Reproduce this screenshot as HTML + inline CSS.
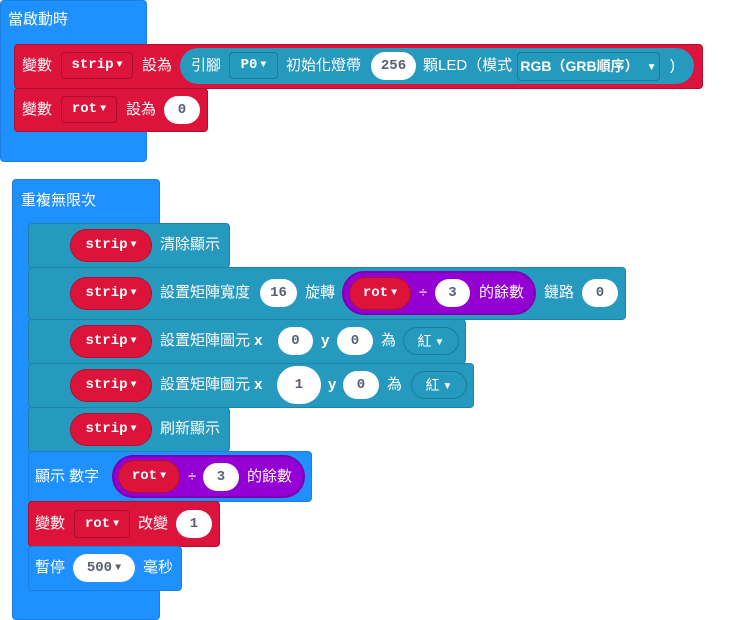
<!DOCTYPE html>
<html><head><meta charset="utf-8"><style>
body{margin:0;width:750px;height:620px;background:#fff;position:relative;overflow:hidden;font-family:"Liberation Sans","Noto Sans CJK TC",sans-serif;font-size:15px;color:#fff}
div{position:absolute;box-sizing:border-box}
.b{background:#1e90ff;border:1px solid #1a7fe0;border-radius:4px}
.r{background:#dc143c;border:1px solid #b01030;border-radius:4px}
.t{background:#2699bf;border:1px solid #1f84a6;border-radius:4px}
.t2{background:#2699bf;border-radius:4px}
.p{background:#9400d3;border:2px solid #7a00b0}
.tx{white-space:nowrap;line-height:20px}
.dd{border-radius:4px;font-family:"Liberation Mono",monospace;font-weight:bold;font-size:14px;text-align:center;white-space:nowrap}
.ddr{background:#dc143c;border:1px solid #a80f2e}
.ddt{background:#2699bf;border:1px solid #1c7a9a}
.pill{background:#dc143c;border:1px solid #b01030;border-radius:18px;font-family:"Liberation Mono",monospace;font-weight:bold;font-size:14px;text-align:center;white-space:nowrap}
.ov{background:#fff;color:#575e75;border-radius:16px;text-align:center;font-family:"Liberation Mono",monospace;font-weight:bold;font-size:14px}
i{font-style:normal;font-size:10px;vertical-align:1px;margin-left:3px}
</style></head><body>
<div class="b" style="left:0;top:0;width:147px;height:162px"></div>
<div class="tx" style="left:8px;top:10px">當啟動時</div>
<div class="r" style="left:14px;top:44px;width:689px;height:45px"></div>
<div class="r" style="left:14px;top:88px;width:194px;height:44px"></div>
<div class="tx" style="left:22px;top:56px">變數</div>
<div class="dd ddr" style="left:61px;top:52px;width:72px;height:27px;line-height:25px">strip<i>▼</i></div>
<div class="tx" style="left:142px;top:56px">設為</div>
<div class="t2" style="left:180px;top:48px;width:514px;height:36px;border-radius:18px"></div>
<div class="tx" style="left:191px;top:56px">引腳</div>
<div class="dd ddt" style="left:229px;top:52px;width:49px;height:27px;line-height:25px">P0<i>▼</i></div>
<div class="tx" style="left:286px;top:56px">初始化燈帶</div>
<div class="ov" style="left:371px;top:52px;width:45px;height:28px;line-height:28px">256</div>
<div class="tx" style="left:423px;top:56px">顆LED（模式</div>
<div class="dd ddt" style="left:517px;top:52px;width:143px;height:29px;line-height:27px;font-family:'Liberation Sans','Noto Sans CJK TC',sans-serif">RGB（GRB順序）<i style="margin-left:8px">▼</i></div>
<div class="tx" style="left:670px;top:56px">)</div>
<div class="tx" style="left:22px;top:100px">變數</div>
<div class="dd ddr" style="left:61px;top:96px;width:56px;height:27px;line-height:25px">rot<i>▼</i></div>
<div class="tx" style="left:126px;top:100px">設為</div>
<div class="ov" style="left:164px;top:96px;width:36px;height:28px;line-height:28px">0</div>

<div class="b" style="left:12px;top:179px;width:148px;height:441px"></div>
<div class="tx" style="left:21px;top:191px">重複無限次</div>
<div class="t" style="left:28px;top:223px;width:202px;height:45px"></div>
<div class="t" style="left:28px;top:267px;width:598px;height:53px"></div>
<div class="t" style="left:28px;top:319px;width:438px;height:45px"></div>
<div class="t" style="left:28px;top:363px;width:446px;height:45px"></div>
<div class="t" style="left:28px;top:407px;width:202px;height:45px"></div>
<div class="b" style="left:28px;top:451px;width:284px;height:51px"></div>
<div class="r" style="left:28px;top:501px;width:192px;height:46px"></div>
<div class="b" style="left:28px;top:546px;width:154px;height:45px"></div>

<div class="pill" style="left:70px;top:229px;width:82px;height:33px;line-height:31px">strip<i>▼</i></div>
<div class="tx" style="left:160px;top:235px">清除顯示</div>

<div class="pill" style="left:70px;top:277px;width:82px;height:33px;line-height:31px">strip<i>▼</i></div>
<div class="tx" style="left:160px;top:283px">設置矩陣寬度</div>
<div class="ov" style="left:260px;top:279px;width:37px;height:28px;line-height:28px">16</div>
<div class="tx" style="left:305px;top:283px">旋轉</div>
<div class="p" style="left:342px;top:271px;width:194px;height:44px;border-radius:22px"></div>
<div class="pill" style="left:349px;top:277px;width:62px;height:33px;line-height:31px">rot<i>▼</i></div>
<div class="tx" style="left:419px;top:283px">÷</div>
<div class="ov" style="left:435px;top:279px;width:35px;height:28px;line-height:28px">3</div>
<div class="tx" style="left:479px;top:283px">的餘數</div>
<div class="tx" style="left:544px;top:283px">鏈路</div>
<div class="ov" style="left:582px;top:279px;width:36px;height:28px;line-height:28px">0</div>

<div class="pill" style="left:70px;top:325px;width:82px;height:33px;line-height:31px">strip<i>▼</i></div>
<div class="tx" style="left:160px;top:331px">設置矩陣圖元 <b>x</b></div>
<div class="ov" style="left:278px;top:327px;width:35px;height:28px;line-height:28px">0</div>
<div class="tx" style="left:321px;top:331px"><b>y</b></div>
<div class="ov" style="left:337px;top:327px;width:36px;height:28px;line-height:28px">0</div>
<div class="tx" style="left:381px;top:331px">為</div>
<div class="dd ddt" style="left:403px;top:327px;width:56px;height:28px;line-height:26px;border-radius:14px;font-weight:normal;font-family:'Liberation Sans','Noto Sans CJK TC',sans-serif">紅<i>▼</i></div>

<div class="pill" style="left:70px;top:369px;width:82px;height:33px;line-height:31px">strip<i>▼</i></div>
<div class="tx" style="left:160px;top:375px">設置矩陣圖元 <b>x</b></div>
<div class="ov" style="left:277px;top:366px;width:44px;height:38px;line-height:38px;border-radius:19px">1</div>
<div class="tx" style="left:328px;top:375px"><b>y</b></div>
<div class="ov" style="left:343px;top:371px;width:36px;height:28px;line-height:28px">0</div>
<div class="tx" style="left:387px;top:375px">為</div>
<div class="dd ddt" style="left:411px;top:371px;width:56px;height:28px;line-height:26px;border-radius:14px;font-weight:normal;font-family:'Liberation Sans','Noto Sans CJK TC',sans-serif">紅<i>▼</i></div>

<div class="pill" style="left:70px;top:413px;width:82px;height:33px;line-height:31px">strip<i>▼</i></div>
<div class="tx" style="left:160px;top:419px">刷新顯示</div>

<div class="tx" style="left:35px;top:467px">顯示 數字</div>
<div class="p" style="left:112px;top:455px;width:193px;height:43px;border-radius:22px"></div>
<div class="pill" style="left:118px;top:460px;width:62px;height:33px;line-height:31px">rot<i>▼</i></div>
<div class="tx" style="left:188px;top:467px">÷</div>
<div class="ov" style="left:203px;top:463px;width:36px;height:28px;line-height:28px">3</div>
<div class="tx" style="left:247px;top:467px">的餘數</div>

<div class="tx" style="left:35px;top:514px">變數</div>
<div class="dd ddr" style="left:74px;top:510px;width:56px;height:28px;line-height:26px">rot<i>▼</i></div>
<div class="tx" style="left:138px;top:514px">改變</div>
<div class="ov" style="left:176px;top:510px;width:36px;height:28px;line-height:28px">1</div>

<div class="tx" style="left:35px;top:558px">暫停</div>
<div class="ov" style="left:73px;top:554px;width:62px;height:28px;line-height:28px">500<i>▼</i></div>
<div class="tx" style="left:143px;top:558px">毫秒</div>
</body></html>
